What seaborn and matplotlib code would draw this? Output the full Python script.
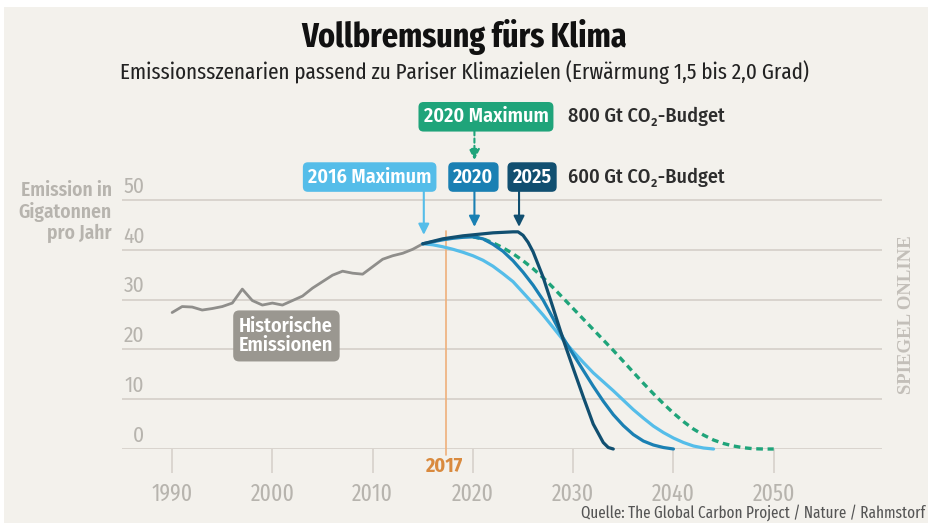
import matplotlib
matplotlib.use("Agg")
import matplotlib.pyplot as plt
import seaborn as sns
import pandas as pd
from matplotlib.patches import Rectangle

# ---------------- data ----------------
hist_years = list(range(1990, 2016))
hist_values = [27.4, 28.6, 28.5, 27.9, 28.2, 28.6, 29.3, 32.1, 29.8, 28.9,
               29.3, 28.9, 29.8, 30.7, 32.3, 33.6, 34.9, 35.7, 35.3, 35.1,
               36.6, 38.1, 38.8, 39.3, 40.1, 41.2]

# 600 Gt budget, maximum 2016
max2016_years = list(range(2015, 2045))
max2016_values = [41.2, 41.0, 40.6, 40.1, 39.5, 38.8, 37.9, 36.7, 35.2, 33.6,
                  31.4, 29.2, 26.9, 24.4, 21.9, 19.6, 17.4, 15.3, 13.5, 11.7,
                  9.8, 7.9, 6.2, 4.6, 3.3, 2.2, 1.3, 0.6, 0.2, 0.0]

# 600 Gt budget, maximum 2020
max2020_years = list(range(2015, 2041))
max2020_values = [41.2, 41.6, 42.0, 42.3, 42.5, 42.6, 42.2, 41.1, 39.7, 37.8,
                  35.5, 32.9, 29.9, 26.2, 22.3, 19.0, 15.8, 12.6, 9.6, 6.9,
                  4.7, 2.9, 1.6, 0.8, 0.3, 0.0]

# 600 Gt budget, maximum 2025
max2025_years = [2015, 2016, 2017, 2018, 2019, 2020, 2021, 2022, 2023, 2024,
                 2024.5, 2025, 2025.5, 2026, 2027, 2028, 2029, 2030, 2031,
                 2032, 2033, 2033.5, 2034]
max2025_values = [41.2, 41.7, 42.2, 42.5, 42.8, 43.0, 43.2, 43.4, 43.5, 43.6,
                  43.6, 42.9, 41.5, 39.6, 34.5, 28.3, 22.0, 16.2, 10.5,
                  5.0, 1.3, 0.3, 0.0]

# 800 Gt budget, maximum 2020 (dashed)
max2020b_years = list(range(2020, 2051))
max2020b_values = [42.6, 42.2, 41.4, 40.4, 39.2, 37.8, 36.2, 34.4, 32.4, 30.3,
                   28.2, 26.1, 24.0, 21.9, 19.8, 17.6, 15.4, 13.2, 11.1, 9.1,
                   7.2, 5.5, 4.0, 2.8, 1.8, 1.1, 0.6, 0.25, 0.05, 0.0, 0.0]

x_ticks = [1990, 2000, 2010, 2020, 2030, 2040, 2050]
y_ticks = [0, 10, 20, 30, 40, 50]
marker_year = 2017

# ---------------- style ----------------
BG = "#f3f1ec"
GRID = "#d4cfc8"
TICKTXT = "#b7b4ae"
C_LIGHT = "#55bde9"
C_MED = "#1a80b3"
C_DARK = "#114f70"
C_GREEN = "#1fa47a"
C_HIST = "#8f8e8b"
C_HISTBOX = "#9a9790"
C_ORANGE = "#efb07a"
C_ORANGE_TXT = "#d98a3e"

sns.set_theme(style="white")
FAM = ["Fira Sans Condensed", "DejaVu Sans"]
FAM_X = ["Fira Sans Extra Condensed", "DejaVu Sans"]
plt.rcParams["font.family"] = FAM

W, H = 929, 523
fig = plt.figure(figsize=(W / 100, H / 100), dpi=100)
fig.patch.set_facecolor("white")
fig.patches.append(Rectangle((4 / W, 0), 1, 1 - 7 / H, transform=fig.transFigure,
                             facecolor=BG, edgecolor="none", zorder=-10))

ax_left, ax_right, ax_bottom, ax_top = 122, 882, 449, 190
ax = fig.add_axes([ax_left / W, 1 - ax_bottom / H,
                   (ax_right - ax_left) / W, (ax_bottom - ax_top) / H])
ax.set_facecolor("none")
ax.set_xlim(1985.0, 2060.8)
ax.set_ylim(0, 52)

# grid
ax.set_yticks(y_ticks)
ax.yaxis.grid(True, color=GRID, linewidth=1.2)
ax.xaxis.grid(False)
ax.tick_params(axis="y", left=False, labelleft=False)
for s in ax.spines.values():
    s.set_visible(False)

ax.set_xticks(x_ticks)
ax.set_xticklabels([str(t) for t in x_ticks], family=FAM_X)
ax.tick_params(axis="x", bottom=True, length=17, width=1.1, color=GRID,
               pad=7, labelsize=17, labelcolor=TICKTXT)

for v in y_ticks:
    ax.annotate(str(v), xy=(0.0295, v), xycoords=("axes fraction", "data"),
                xytext=(0, 2.0), textcoords="offset points",
                ha="right", va="bottom", fontsize=15.5, color=TICKTXT, family=FAM)

ax.text(-0.013, 53.8, "Emission in\nGigatonnen\npro Jahr", transform=ax.get_yaxis_transform(),
        ha="right", va="top", fontsize=14, color=TICKTXT, fontweight="semibold",
        linespacing=1.08, multialignment="right", family=FAM)

# 2017 marker
ax.axvline(marker_year + 0.3, ymin=-0.025, ymax=0.84, color=C_ORANGE,
           linewidth=1.2, clip_on=False, zorder=1)
ax.text(marker_year + 0.05, -3.4, str(marker_year), ha="center", va="center",
        fontsize=14.5, fontweight="bold", color=C_ORANGE_TXT, family=FAM)

# lines
sns.lineplot(x=hist_years, y=hist_values, ax=ax, color=C_HIST, linewidth=2.0,
             zorder=3, clip_on=False)
sns.lineplot(x=max2020b_years, y=max2020b_values, ax=ax, color=C_GREEN,
             linewidth=2.4, linestyle=(0, (2.0, 1.4)), zorder=3, clip_on=False)
sns.lineplot(x=max2016_years, y=max2016_values, ax=ax, color=C_LIGHT,
             linewidth=2.3, zorder=4, clip_on=False)
sns.lineplot(x=max2020_years, y=max2020_values, ax=ax, color=C_MED,
             linewidth=2.3, zorder=5, clip_on=False)
sns.lineplot(x=max2025_years, y=max2025_values, ax=ax, color=C_DARK,
             linewidth=2.3, zorder=6, clip_on=False)
for ln in ax.lines:
    ln.set_solid_capstyle("round")

# labels & arrows
def box(x, y, txt, fc, fs=14.5):
    ax.text(x, y, txt, ha="center", va="center", fontsize=fs, color="white",
            fontweight="semibold", zorder=10,
            bbox=dict(boxstyle="round,pad=0.25,rounding_size=0.25", fc=fc, ec="none"))

box(2009.7, 54.6, "2016 Maximum", C_LIGHT)
box(2020.05, 54.6, "2020", C_MED)
box(2025.9, 54.6, "2025", C_DARK)
box(2021.3, 66.7, "2020 Maximum", C_GREEN)
ax.text(2029.5, 54.6, "600 Gt CO₂-Budget", ha="left", va="center",
        fontsize=14.5, color="#2d2d2d", fontweight="medium")
ax.text(2029.5, 66.7, "800 Gt CO₂-Budget", ha="left", va="center",
        fontsize=14.5, color="#2d2d2d", fontweight="medium")

arrow_kw = dict(arrowstyle="-|>", lw=1.5, mutation_scale=16, shrinkA=0, shrinkB=0)
ax.annotate("", xy=(2015.1, 43.0), xytext=(2015.1, 51.9),
            arrowprops=dict(color=C_LIGHT, **arrow_kw), annotation_clip=False)
ax.annotate("", xy=(2020.15, 44.6), xytext=(2020.15, 51.9),
            arrowprops=dict(color=C_MED, **arrow_kw), annotation_clip=False)
ax.annotate("", xy=(2024.6, 44.6), xytext=(2024.6, 51.9),
            arrowprops=dict(color=C_DARK, **arrow_kw), annotation_clip=False)
ax.annotate("", xy=(2020.15, 58.0), xytext=(2020.15, 63.8),
            arrowprops=dict(color=C_GREEN, linestyle=(0, (2, 1.5)), **arrow_kw),
            annotation_clip=False)

ax.text(2001.4, 22.7, "Historische\nEmissionen", ha="center", va="center",
        fontsize=14.5, color="white", fontweight="semibold", linespacing=1.0,
        multialignment="left", zorder=10,
        bbox=dict(boxstyle="round,pad=0.3,rounding_size=0.3", fc=C_HISTBOX, ec="none"))

# titles
fig.text(0.5, 1 - 37 / H, "Vollbremsung fürs Klima", ha="center", va="center",
         fontsize=25, fontweight="bold", color="#111111", family=FAM_X)
fig.text(0.5, 1 - 72 / H,
         "Emissionsszenarien passend zu Pariser Klimazielen (Erwärmung 1,5 bis 2,0 Grad)",
         ha="center", va="center", fontsize=16.5, color="#222222", family=FAM_X)
fig.text(925 / W, 1 - 513 / H,
         "Quelle: The Global Carbon Project / Nature / Rahmstorf",
         ha="right", va="center", fontsize=11.8, color="#555555", family=FAM_X)
fig.text(907 / W, 1 - 315 / H, "SPIEGEL ONLINE", rotation=90, ha="center",
         va="center", fontsize=13.5, color="#c3bfb9",
         family=["Liberation Serif", "DejaVu Serif"], fontweight="bold")

fig.savefig("out.png", dpi=100, facecolor=fig.get_facecolor())
